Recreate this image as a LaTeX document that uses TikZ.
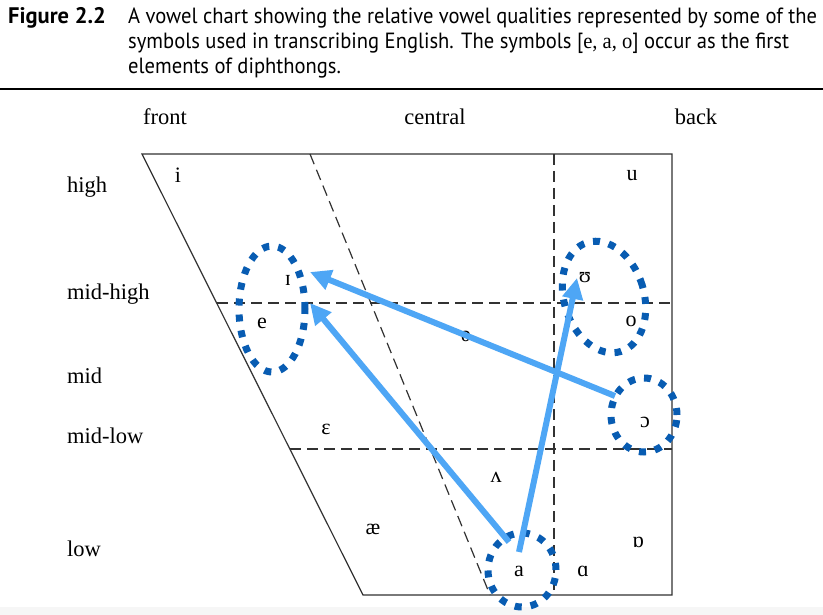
\documentclass[tikz,border=0pt]{standalone}
\usepackage{fontspec}
\setmainfont{Liberation Serif}
\newfontfamily\capfont{PT Sans}
\usetikzlibrary{arrows.meta}
\definecolor{ringblue}{RGB}{8,92,178}
\definecolor{arrowblue}{RGB}{78,166,245}
\definecolor{chartgray}{RGB}{50,50,50}
\definecolor{bandgray}{RGB}{246,246,246}
\newcommand\capsq[1]{\scalebox{0.935}[1]{#1}}
\tikzset{
  capline/.style={anchor=base west, inner sep=0pt, font=\capfont\fontsize{22}{26}\selectfont},
  axislabel/.style={anchor=base, inner sep=0pt, font=\fontsize{22.5}{26}\selectfont},
  rowlabel/.style={anchor=base west, inner sep=0pt, font=\fontsize{22.5}{26}\selectfont},
  vowel/.style={anchor=base, inner sep=0pt, font=\fontsize{22}{26}\selectfont},
  chartline/.style={draw=chartgray, line width=1.2pt},
  chartdash/.style={draw=chartgray, line width=1.2pt, dash pattern=on 11pt off 6pt},
  dotring/.style={draw=ringblue, line width=7pt, dash pattern=on 7pt off 9pt},
  movearrow/.style={draw=arrowblue, line width=6pt, -{Triangle[length=21pt,width=20pt]}},
}
\begin{document}
\begin{tikzpicture}[x=1pt,y=-1pt]
\useasboundingbox (0,0) rectangle (823,615);
\fill[white] (0,0) rectangle (823,615);
\fill[bandgray] (0,607) rectangle (823,615);
% caption
\node[capline, font=\capfont\bfseries\fontsize{22.5}{26}\selectfont] (fig) at (8,24) {Figure 2.2};
\node[capline] (c1) at (128,24) {\capsq{A vowel chart showing the relative vowel qualities represented by some of the}};
\node[capline] (c2) at (128,49) {\capsq{symbols used in transcribing English. The symbols [{\rmfamily e, a, o}] occur as the first}};
\node[capline] (c3) at (128,74) {\capsq{elements of diphthongs.}};
\draw[line width=1.8pt, black] (0,89) -- (823,89);
% axis labels
\node[axislabel] (front) at (165,125) {front};
\node[axislabel] (central) at (435,125) {central};
\node[axislabel] (back) at (696,125) {back};
\node[rowlabel] (high) at (67,193) {high};
\node[rowlabel] (midhigh) at (67,299) {mid-high};
\node[rowlabel] (mid) at (67,383) {mid};
\node[rowlabel] (midlow) at (67,443) {mid-low};
\node[rowlabel] (low) at (67,556) {low};
% chart frame
\coordinate (TL) at (142,154);
\coordinate (TR) at (672,154);
\coordinate (BR) at (672,595);
\coordinate (BL) at (363,595);
\draw[chartline] (TL) -- (TR) -- (BR) -- (BL) -- cycle;
\draw[chartdash] (310,154) -- (490,595);
\draw[chartdash] (554,154) -- (554,595);
\draw[chartdash] (217,303) -- (672,303);
\draw[chartdash] (290,449) -- (672,449);
% vowels
\node[vowel] (i) at (178,183) {i};
\node[vowel] (I) at (288,286) {ɪ};
\node[vowel] (e) at (262,328) {e};
\node[vowel] (schwa) at (466,341) {ə};
\node[vowel] (u) at (632,181) {u};
\node[vowel] (U) at (585,283) {ʊ};
\node[vowel] (o) at (631,326) {o};
\node[vowel] (O) at (645,427) {ɔ};
\node[vowel] (E) at (326,434) {ɛ};
\node[vowel] (V) at (496,482) {ʌ};
\node[vowel] (ae) at (373,534) {æ};
\node[vowel] (a) at (519,576) {a};
\node[vowel] (A) at (583,576) {ɑ};
\node[vowel] (Ab) at (638,547) {ɒ};
% dotted rings
\draw[dotring] (272,309) ellipse [x radius=33pt, y radius=63pt];
\draw[dotring] (604,297) ellipse [x radius=40pt, y radius=57pt, rotate=17];
\draw[dotring] (644,415) ellipse [x radius=33pt, y radius=37pt];
\draw[dotring] (522,570) ellipse [x radius=34pt, y radius=37pt];
% arrows
\coordinate (a1) at (509,542);
\coordinate (a2) at (519,552);
\coordinate (o1) at (615,396);
\coordinate (I1) at (310,303);
\coordinate (I2) at (310,272);
\coordinate (U1) at (577,278);
\draw[movearrow] (a1) -- (I1);
\draw[movearrow] (a2) -- (U1);
\draw[movearrow] (o1) -- (I2);
\end{tikzpicture}
\end{document}
